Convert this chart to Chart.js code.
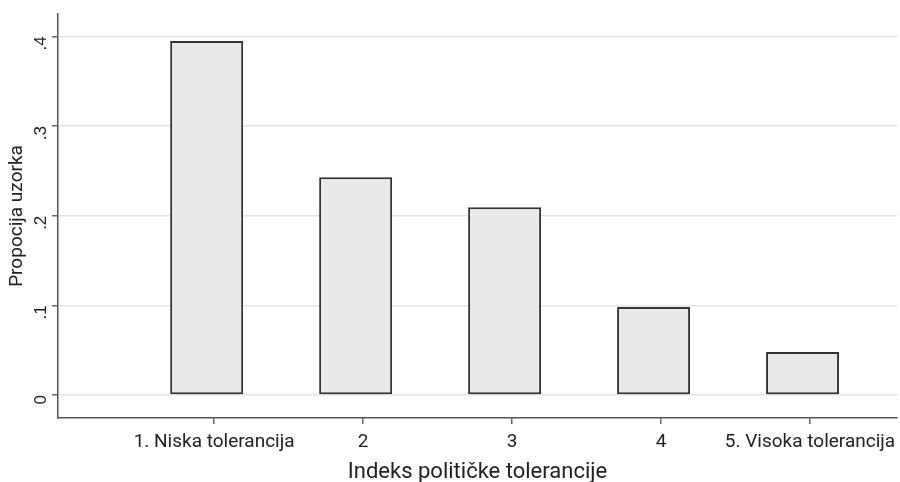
<!DOCTYPE html>
<html>
<head>
<meta charset="utf-8">
<script src="https://cdn.jsdelivr.net/npm/chart.js@4"></script>
<style>
  html, body { margin: 0; padding: 0; background: #fff; }
  #wrap { width: 900px; height: 482px; }
</style>
</head>
<body>
<div id="wrap"><canvas id="toleranceChart"></canvas></div>
<script>
// Histogram: indeks političke tolerancije
const categoryPositions = [1, 2, 3, 4, 5];
const categoryLabels = ['1. Niska tolerancija', '2', '3', '4', '5. Visoka tolerancija'];
const proportions = [0.395, 0.243, 0.2095, 0.098, 0.048];
const yTickValues = [0, 0.1, 0.2, 0.3, 0.4];
const yTickLabels = ['0', '.1', '.2', '.3', '.4'];

// bars sit a little left of their tick, as in the original
const barShift = -0.05;
const fontFamily = 'Roboto, "DejaVu Sans", sans-serif';

const ctx = document.getElementById('toleranceChart').getContext('2d');
const toleranceChart = new Chart(ctx, {
  type: 'bar',
  data: {
    datasets: [{
      data: categoryPositions.map((x, i) => ({ x: x + barShift, y: proportions[i] })),
      backgroundColor: '#e9e9ec',
      borderColor: '#333333',
      borderWidth: 2,
      borderSkipped: false,
      categoryPercentage: 1,
      barPercentage: 0.49
    }]
  },
  options: {
    responsive: true,
    maintainAspectRatio: false,
    animation: false,
    layout: { padding: { top: 14, right: 3, left: 0, bottom: 0 } },
    plugins: {
      legend: { display: false },
      tooltip: { enabled: false }
    },
    scales: {
      x: {
        type: 'linear',
        offset: false,
        min: -0.048,
        max: 5.584,
        afterBuildTicks: (scale) => {
          scale.ticks = categoryPositions.map(v => ({ value: v }));
        },
        afterFit: (scale) => {
          scale.height = 64;
          scale.paddingLeft = 0;
          scale.paddingRight = 0;
        },
        ticks: {
          autoSkip: false,
          maxRotation: 0,
          padding: 7,
          color: '#222',
          font: { family: fontFamily, size: 19 },
          callback: (value) => categoryLabels[categoryPositions.indexOf(value)]
        },
        grid: {
          offset: false,
          drawOnChartArea: false,
          tickLength: 6,
          tickColor: '#666',
          lineWidth: 1.5
        },
        border: { display: true, color: '#555', width: 1.5 },
        title: {
          display: true,
          text: 'Indeks političke tolerancije',
          color: '#222',
          font: { family: fontFamily, size: 22 },
          padding: { top: 0, bottom: -4 }
        }
      },
      y: {
        min: -0.0257,
        max: 0.425,
        afterBuildTicks: (scale) => {
          scale.ticks = yTickValues.map(v => ({ value: v }));
        },
        afterFit: (scale) => {
          scale.width = 58;
          scale.paddingTop = 0;
          scale.paddingBottom = 0;
        },
        ticks: {
          minRotation: 90,
          maxRotation: 90,
          padding: 11,
          color: '#222',
          font: { family: '"Liberation Sans", Arial, sans-serif', size: 17 },
          callback: (value) => yTickLabels[yTickValues.indexOf(value)]
        },
        grid: {
          color: '#e4e4e4',
          lineWidth: 1.5,
          tickLength: 6,
          tickColor: '#666'
        },
        border: { display: true, color: '#555', width: 1.5 },
        title: {
          display: true,
          text: 'Propocija uzorka',
          color: '#222',
          font: { family: fontFamily, size: 19 },
          padding: { top: 6, bottom: 0 }
        }
      }
    }
  }
});
</script>
</body>
</html>
